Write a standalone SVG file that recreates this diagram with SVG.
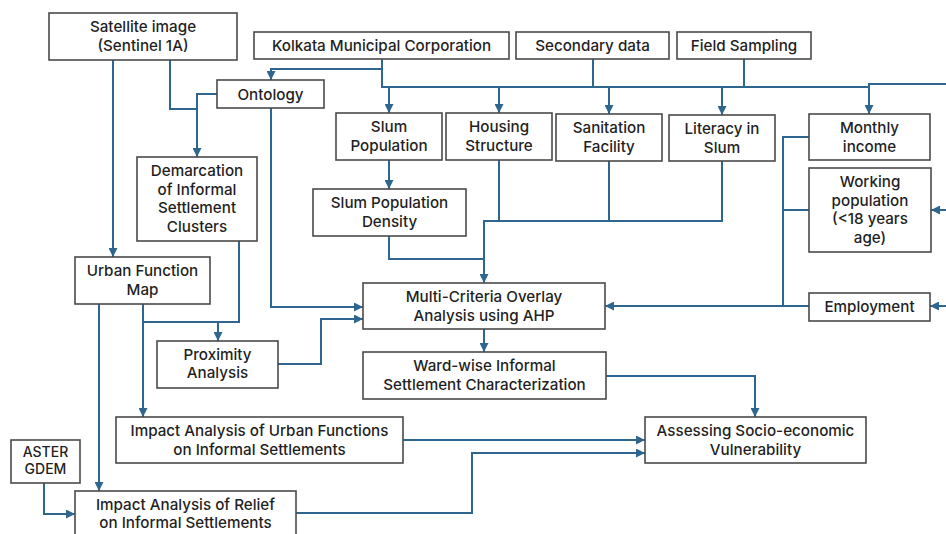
<svg xmlns="http://www.w3.org/2000/svg" width="946" height="534" viewBox="0 0 946 534">
<style>
.box{fill:#fff;stroke:#4a4a4a;stroke-width:1.6}
.t{font-family:Inter,"Open Sans","Liberation Sans",sans-serif;font-size:15.2px;font-weight:500;fill:#1f1f1f;text-anchor:middle}
.c{fill:none;stroke:#2f6690;stroke-width:2}
.a{marker-end:url(#ah)}
</style>
<defs>
<marker id="ah" viewBox="0 0 10 10" refX="10" refY="5" markerWidth="9" markerHeight="9" markerUnits="userSpaceOnUse" orient="auto">
<path d="M0,0 L10,5 L0,10 z" fill="#2f6690"/>
</marker>
</defs>
<rect width="946" height="534" fill="#fff"/>
<g id="connectors">
<path class="c" d="M382,59 V87 H869"/>
<path class="c a" d="M382,69 H271 V80"/>
<path class="c" d="M593,59 V87"/>
<path class="c" d="M744,59 V87"/>
<path class="c a" d="M389,87 V113"/>
<path class="c a" d="M499,87 V113"/>
<path class="c a" d="M609,87 V114"/>
<path class="c a" d="M722,87 V115"/>
<path class="c a" d="M869,84 V114"/>
<path class="c" d="M868,84 H946"/>
<path class="c a" d="M113,60 V257"/>
<path class="c" d="M170,60 V109 H197"/>
<path class="c a" d="M217,94 H197 V157"/>
<path class="c a" d="M271,108 V307 H363"/>
<path class="c a" d="M389,160 V189"/>
<path class="c" d="M389,236 V259 H484"/>
<path class="c" d="M499,160 V221"/>
<path class="c" d="M484,221 H722 V161"/>
<path class="c" d="M609,161 V221"/>
<path class="c a" d="M484,220 V283"/>
<path class="c" d="M239,241 V322 H143"/>
<path class="c a" d="M218,322 V341"/>
<path class="c a" d="M143,304 V417"/>
<path class="c a" d="M99,304 V491"/>
<path class="c a" d="M278,364 H321 V319 H363"/>
<path class="c a" d="M484,329 V352"/>
<path class="c a" d="M606,376 H755 V417"/>
<path class="c" d="M809,137 H783 V306"/>
<path class="c" d="M783,210 H809"/>
<path class="c a" d="M809,306 H605"/>
<path class="c a" d="M946,210 H931"/>
<path class="c a" d="M946,306 H930"/>
<path class="c a" d="M44,483 V514 H75"/>
<path class="c a" d="M403,440 H645"/>
<path class="c a" d="M296,513 H472 V453 H645"/>
</g>
<g id="sat"><rect class="box" x="49" y="13" width="188" height="47"/><text class="t" x="143" y="32">Satellite image</text><text class="t" x="143" y="51">(Sentinel 1A)</text></g>
<g id="kmc"><rect class="box" x="254" y="32" width="255" height="27"/><text class="t" x="381.5" y="50.5">Kolkata Municipal Corporation</text></g>
<g id="secondary"><rect class="box" x="516" y="32" width="153" height="27"/><text class="t" x="592.5" y="50.5">Secondary data</text></g>
<g id="field"><rect class="box" x="677" y="32" width="134" height="27"/><text class="t" x="744" y="50.5">Field Sampling</text></g>
<g id="ontology"><rect class="box" x="217" y="80" width="107" height="28"/><text class="t" x="270.5" y="99.5">Ontology</text></g>
<g id="slumpop"><rect class="box" x="336" y="113" width="106" height="47"/><text class="t" x="389" y="132">Slum</text><text class="t" x="389" y="150.5">Population</text></g>
<g id="housing"><rect class="box" x="446" y="113" width="106" height="47"/><text class="t" x="499" y="132">Housing</text><text class="t" x="499" y="150.5">Structure</text></g>
<g id="sanitation"><rect class="box" x="556" y="114" width="106" height="47"/><text class="t" x="609" y="133">Sanitation</text><text class="t" x="609" y="151.5">Facility</text></g>
<g id="literacy"><rect class="box" x="669" y="115" width="106" height="46"/><text class="t" x="722" y="134">Literacy in</text><text class="t" x="722" y="152.5">Slum</text></g>
<g id="monthly"><rect class="box" x="809" y="114" width="121" height="46"/><text class="t" x="869.5" y="133">Monthly</text><text class="t" x="869.5" y="151.5">income</text></g>
<g id="working"><rect class="box" x="809" y="168" width="122" height="84"/><text class="t" x="870" y="187">Working</text><text class="t" x="870" y="205.5">population</text><text class="t" x="870" y="224">(&lt;18 years</text><text class="t" x="870" y="242.5">age)</text></g>
<g id="employment"><rect class="box" x="809" y="293" width="121" height="28"/><text class="t" x="869.5" y="312">Employment</text></g>
<g id="demarcation"><rect class="box" x="137" y="157" width="120" height="84"/><text class="t" x="197" y="176">Demarcation</text><text class="t" x="197" y="194.5">of Informal</text><text class="t" x="197" y="213">Settlement</text><text class="t" x="197" y="231.5">Clusters</text></g>
<g id="density"><rect class="box" x="313" y="189" width="153" height="47"/><text class="t" x="389.5" y="208">Slum Population</text><text class="t" x="389.5" y="226.5">Density</text></g>
<g id="urbanmap"><rect class="box" x="75" y="257" width="135" height="47"/><text class="t" x="142.5" y="276">Urban Function</text><text class="t" x="142.5" y="294.5">Map</text></g>
<g id="multi"><rect class="box" x="363" y="283" width="242" height="46"/><text class="t" x="484" y="302">Multi-Criteria Overlay</text><text class="t" x="484" y="320.5">Analysis using AHP</text></g>
<g id="proximity"><rect class="box" x="157" y="341" width="121" height="47"/><text class="t" x="217.5" y="359.5">Proximity</text><text class="t" x="217.5" y="378">Analysis</text></g>
<g id="ward"><rect class="box" x="363" y="352" width="243" height="47"/><text class="t" x="484.5" y="371">Ward-wise Informal</text><text class="t" x="484.5" y="389.5">Settlement Characterization</text></g>
<g id="impacturban"><rect class="box" x="116" y="417" width="287" height="46"/><text class="t" x="259.5" y="436">Impact Analysis of Urban Functions</text><text class="t" x="259.5" y="454.5">on Informal Settlements</text></g>
<g id="assess"><rect class="box" x="645" y="417" width="221" height="46"/><text class="t" x="755.5" y="436">Assessing Socio-economic</text><text class="t" x="755.5" y="454.5">Vulnerability</text></g>
<g id="aster"><rect class="box" x="11" y="440" width="69" height="43"/><text class="t" x="45.5" y="457" style="font-size:14px">ASTER</text><text class="t" x="45.5" y="474" style="font-size:14px">GDEM</text></g>
<g id="relief"><rect class="box" x="75" y="491" width="221" height="50"/><text class="t" x="185.5" y="509.5">Impact Analysis of Relief</text><text class="t" x="185.5" y="528">on Informal Settlements</text></g>
</svg>
